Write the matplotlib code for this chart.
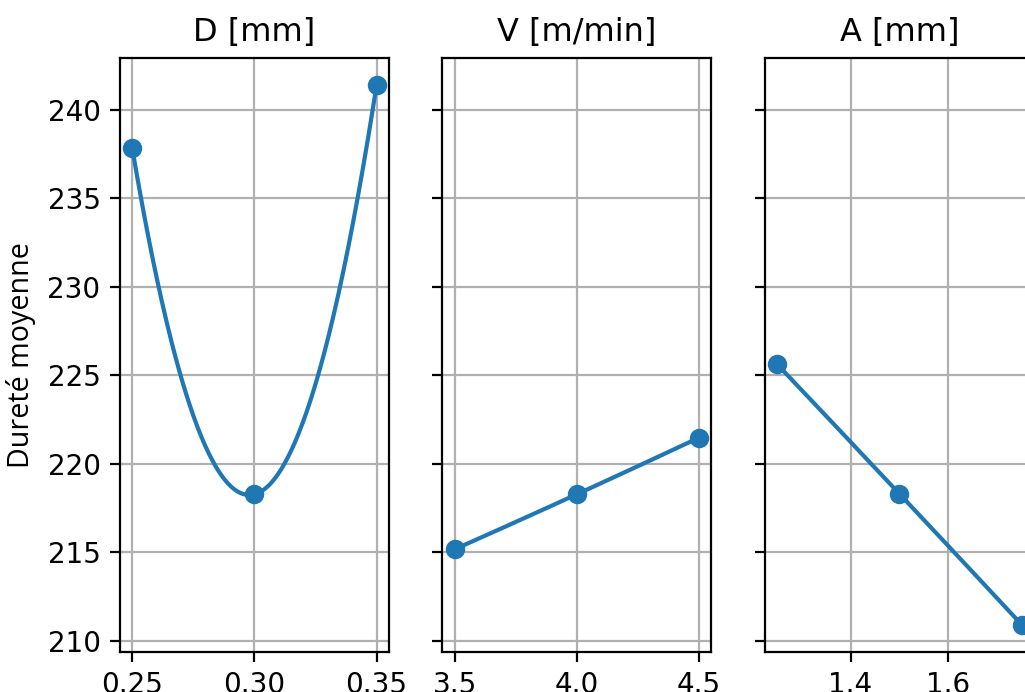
import numpy as np
import matplotlib
matplotlib.use("Agg")
import matplotlib.pyplot as plt

# Main effects
d_levels = [0.25, 0.30, 0.35]
d_hard = [237.85, 218.27, 241.41]

v_levels = [3.5, 4.0, 4.5]
v_hard = [215.16, 218.27, 221.47]

a_levels = [1.25, 1.50, 1.75]
a_hard = [225.62, 218.30, 210.91]

titles = ["D [mm]", "V [m/min]", "A [mm]"]
factors = [(d_levels, d_hard), (v_levels, v_hard), (a_levels, a_hard)]

fig = plt.figure(figsize=(1025 / 200, 692 / 200), dpi=200)

lefts = [120 / 1025, 442.3 / 1025, 765 / 1025]
width = 268.8 / 1025
bottom = 1 - 651.5 / 692
height = (651.5 - 58) / 692

axes = []
for i, left in enumerate(lefts):
    ax = fig.add_axes([left, bottom, width, height],
                      sharey=axes[0] if axes else None)
    axes.append(ax)

for ax, (x, y), title in zip(axes, factors, titles):
    # quadratic fit through the three levels, as in the original
    coef = np.polyfit(x, y, 2)
    xs = np.linspace(min(x), max(x), 200)
    ax.plot(xs, np.polyval(coef, xs), color="C0", linewidth=1.5)
    ax.plot(x, y, "o", color="C0")
    ax.set_title(title, fontsize=11.5)
    ax.grid(True)

for ax in axes[1:]:
    ax.tick_params(labelleft=False)

axes[0].set_xticks([0.25, 0.30, 0.35])
axes[1].set_xticks([3.5, 4.0, 4.5])
axes[2].set_xticks([1.4, 1.6])
axes[0].set_ylabel("Dureté moyenne", family="Open Sans", fontsize=10.3)

fig.savefig("out.png", dpi=200)
